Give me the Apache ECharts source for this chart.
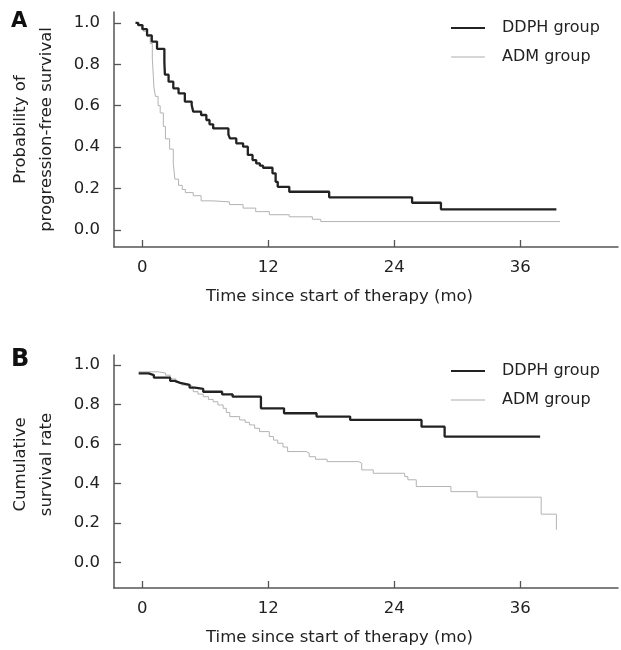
<!DOCTYPE html>
<html>
<head>
<meta charset="utf-8">
<script src="https://cdn.jsdelivr.net/npm/echarts@6/dist/echarts.min.js"></script>
<style>
html,body{margin:0;padding:0;background:#fff;}
#chart{width:621px;height:650px;}
</style>
</head>
<body>
<div id="chart"></div>
<script>
// ---- data (time in months, survival probability) ----
const timeTicks = [0, 12, 24, 36];
const probTicks = [0, 0.2, 0.4, 0.6, 0.8, 1.0];
const seriesNames = ['DDPH group', 'ADM group'];

// Panel A: progression-free survival
const pfsDDPH = [[-0.65,1.0],[-0.4,0.99],[0,0.97],[0.45,0.94],[0.9,0.91],[1.4,0.875],[2.1,0.81],[2.15,0.75],[2.5,0.716],[2.95,0.684],[3.45,0.66],[4.05,0.62],[4.7,0.603],[4.85,0.571],[5.6,0.555],[6.1,0.531],[6.4,0.51],[6.75,0.49],[8.2,0.46],[8.35,0.442],[8.95,0.418],[9.6,0.402],[10.05,0.362],[10.5,0.337],[10.85,0.321],[11.2,0.31],[11.5,0.3],[12.4,0.273],[12.7,0.232],[12.9,0.208],[14.0,0.184],[17.8,0.157],[25.7,0.131],[28.45,0.099],[39.45,0.099]];
const pfsADM = [[-0.65,1.0],[-0.3,0.99],[0.1,0.96],[0.45,0.935],[0.75,0.9],[0.95,0.83],[1.05,0.74],[1.1,0.69],[1.25,0.645],[1.5,0.6],[1.7,0.565],[2.0,0.5],[2.2,0.44],[2.6,0.39],[2.95,0.32],[3.1,0.245],[3.45,0.215],[3.8,0.195],[4.1,0.18],[4.85,0.165],[5.6,0.14],[6.75,0.135],[8.3,0.122],[9.6,0.105],[10.8,0.088],[12.1,0.073],[14.0,0.063],[16.2,0.051],[17.0,0.04],[39.8,0.04]];

// Panel B: cumulative survival
const osDDPH = [[-0.35,0.958],[0.6,0.949],[1.1,0.936],[2.65,0.92],[3.1,0.91],[3.6,0.9],[4.5,0.886],[5.0,0.88],[5.8,0.865],[7.6,0.852],[8.6,0.84],[11.3,0.781],[13.5,0.756],[16.6,0.739],[19.8,0.722],[26.6,0.688],[28.8,0.638],[37.9,0.638]];
const osADM = [[-0.35,0.966],[1.5,0.96],[2.2,0.949],[2.65,0.93],[3.2,0.912],[3.75,0.899],[4.55,0.89],[4.85,0.865],[5.3,0.853],[5.8,0.84],[6.3,0.826],[6.75,0.814],[7.2,0.798],[7.7,0.781],[8.0,0.76],[8.33,0.739],[9.27,0.722],[9.8,0.71],[10.2,0.697],[10.7,0.68],[11.16,0.663],[12.1,0.638],[12.5,0.62],[12.9,0.604],[13.4,0.585],[13.84,0.562],[15.6,0.554],[15.9,0.536],[16.5,0.523],[17.6,0.511],[20.6,0.503],[20.9,0.469],[22.0,0.452],[25.0,0.435],[25.3,0.419],[26.1,0.385],[29.4,0.359],[31.9,0.331],[38.0,0.245],[39.45,0.166]];

// ---- chart ----
const FONT = 'DejaVu Sans';
const TXT = '#222';
const AXC = '#555';
const DARK = '#222';
const LIGHT = '#b3b3b3';

function xAxisCfg(idx) {
  return {
    type: 'value', gridIndex: idx, min: -2.7, max: 45.32,
    name: 'Time since start of therapy (mo)', nameLocation: 'middle', nameGap: 41,
    nameTextStyle: { fontFamily: FONT, fontSize: 16.5, color: TXT, padding: [0, 53, 0, 0] },
    axisLine: { show: true, onZero: false, lineStyle: { color: AXC, width: 1.5 } },
    axisTick: { show: true, inside: true, length: 7, customValues: timeTicks, lineStyle: { color: AXC, width: 1.3 } },
    axisLabel: { customValues: timeTicks, margin: 12, fontFamily: FONT, fontSize: 16.5, color: TXT },
    splitLine: { show: false }
  };
}
function yAxisCfg(idx, min, max, name, pad) {
  return {
    type: 'value', gridIndex: idx, min: min, max: max,
    name: name, nameLocation: 'middle', nameGap: 54, nameRotate: 90,
    nameTextStyle: { fontFamily: FONT, fontSize: 16.5, color: TXT, lineHeight: 26, align: 'center', padding: pad },
    axisLine: { show: true, onZero: false, lineStyle: { color: AXC, width: 1.5 } },
    axisTick: { show: true, inside: true, length: 7, customValues: probTicks, lineStyle: { color: AXC, width: 1.3 } },
    axisLabel: { customValues: probTicks, margin: 14, fontFamily: FONT, fontSize: 16.5, color: TXT,
      formatter: v => Number(v).toFixed(1) },
    splitLine: { show: false }
  };
}
function lineSeries(name, data, idx, dark) {
  return {
    type: 'line', name: name, data: data, xAxisIndex: idx, yAxisIndex: idx,
    step: 'end', symbol: 'none', showSymbol: false,
    color: dark ? DARK : LIGHT,
    lineStyle: { color: dark ? DARK : LIGHT, width: dark ? 2.3 : 1 },
    z: dark ? 3 : 2
  };
}
function legendCfg(top) {
  return {
    orient: 'vertical', left: 451, top: top, padding: 0, itemGap: 13,
    icon: 'rect', itemWidth: 34, itemHeight: 2,
    textStyle: { fontFamily: FONT, fontSize: 16, color: TXT, lineHeight: 16, padding: [0, 0, 0, 12] },
    data: [
      { name: seriesNames[0], itemStyle: { color: DARK } },
      { name: seriesNames[1], itemStyle: { color: '#d6d6d6' } }
    ]
  };
}

const chart = echarts.init(document.getElementById('chart'), null, { renderer: 'canvas' });
chart.setOption({
  animation: false,
  backgroundColor: '#fff',
  grid: [
    { left: 110, top: 12, width: 508, height: 235 },
    { left: 110, top: 355, width: 508, height: 233 }
  ],
  xAxis: [xAxisCfg(0), xAxisCfg(1)],
  yAxis: [
    yAxisCfg(0, -0.083, 1.053, 'Probability of\nprogression-free survival', [0, 0, 0, 0]),
    yAxisCfg(1, -0.129, 1.051, 'Cumulative\nsurvival rate', [0, 0, 0, 14])
  ],
  legend: [legendCfg(20), legendCfg(363)],
  series: [
    lineSeries(seriesNames[1], pfsADM, 0, false),
    lineSeries(seriesNames[0], pfsDDPH, 0, true),
    lineSeries(seriesNames[1], osADM, 1, false),
    lineSeries(seriesNames[0], osDDPH, 1, true)
  ],
  graphic: [
    { type: 'text', left: 11, top: 11, style: { text: 'A', fontFamily: FONT, fontWeight: 'bold', fontSize: 21, fill: '#111' } },
    { type: 'text', left: 11, top: 348, style: { text: 'B', fontFamily: FONT, fontWeight: 'bold', fontSize: 24, fill: '#111' } }
  ]
});
</script>
</body>
</html>
